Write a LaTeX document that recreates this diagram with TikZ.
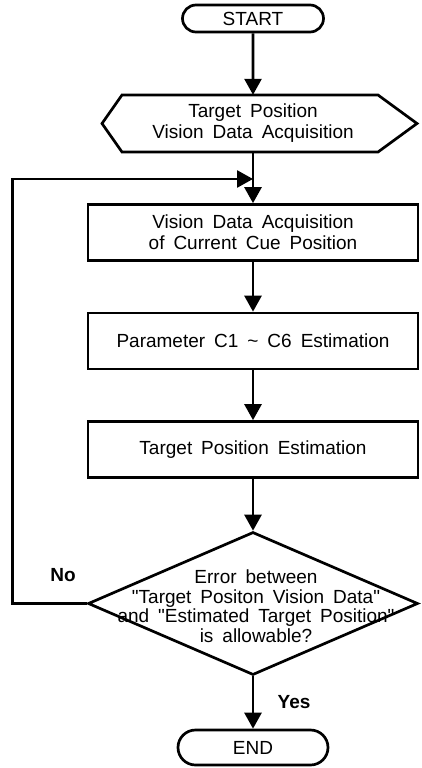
\documentclass[tikz,border=0pt]{standalone}
\usepackage{fontspec}
\setmainfont{Liberation Sans}[WordSpace=1.7, Ligatures=TeXOff]
\usetikzlibrary{arrows.meta,shapes.misc,shapes.geometric,calc}
\begin{document}
\begin{tikzpicture}[x=1pt,y=-1pt,
  every node/.style={font=\fontsize{19}{21}\selectfont},
  ln/.style={line width=2.7pt},
  arr/.style={ln,-{Triangle[width=17pt,length=16pt]}},
  term/.style={rounded rectangle, draw, ln, minimum width=141pt, minimum height=27pt, inner sep=0pt},
  proc/.style={rectangle, draw, ln, minimum width=330pt, minimum height=56pt, align=center, inner sep=0pt},
  lbl/.style={font=\bfseries\fontsize{19}{21}\selectfont}]
\useasboundingbox (0,0) rectangle (421,768);
\node[term] (start) at (253,18.5) {START};
\node[minimum width=300pt,minimum height=57pt,align=center,inner sep=0pt] (tp) at (253,123.5) {Target Position\\Vision Data Acquisition};
\draw[ln,line join=miter] ($(tp.center)+(-131,-28.5)$) -- ($(tp.center)+(125,-28.5)$) -- ($(tp.center)+(164,0)$) -- ($(tp.center)+(125,28.5)$) -- ($(tp.center)+(-131,28.5)$) -- ($(tp.center)+(-151,0)$) -- cycle;
\node[proc] (b1) at (253,232.5) {Vision Data Acquisition\\of Current Cue Position};
\node[proc] (b2) at (253,341) {Parameter C1 \textasciitilde{} C6 Estimation};
\node[proc] (b3) at (253,449.5) {Target Position Estimation};
\node[diamond, draw, ln, minimum width=330pt, minimum height=143pt, inner sep=0pt] (dec) at (253,603.5) {};
\node[align=center, font=\fontsize{19}{19.5}\selectfont] (dect) at (256,606) {Error between\\"Target Positon Vision Data"\\and "Estimated Target Position"\\is allowable?};
\node[term, minimum width=150pt, minimum height=35pt] (end) at (253,747.5) {END};
\coordinate (join) at (253,179);
\draw[arr] (start) -- (tp);
\draw[arr] (tp) -- (b1);
\draw[arr] (b1) -- (b2);
\draw[arr] (b2) -- (b3);
\draw[arr] (b3) -- (dec);
\draw[arr] (dec) -- (end);
\draw[arr] (dec.west) -- ++(-74,0) |- (join);
\node[lbl] (no) at (63,575) {No};
\node[lbl] (yes) at (294,702) {Yes};
\end{tikzpicture}
\end{document}
